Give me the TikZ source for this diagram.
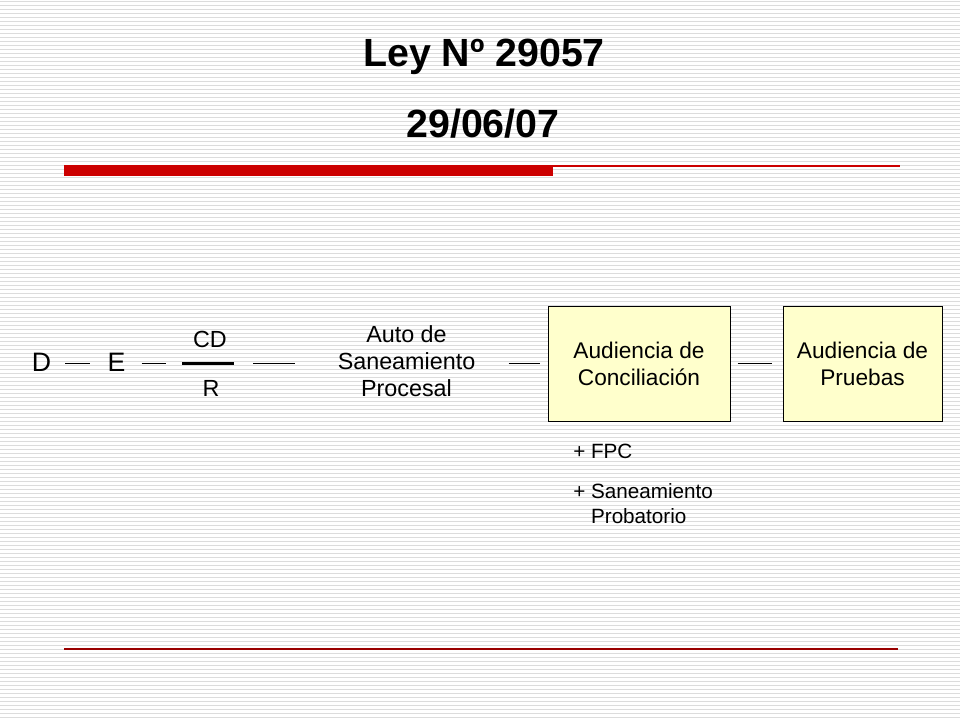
\documentclass[tikz,border=0pt]{standalone}
\usepackage{fontspec}
\setmainfont{Liberation Sans}
\usetikzlibrary{calc}
\definecolor{stripe}{HTML}{DCDCDC}
\definecolor{barred}{HTML}{CC0000}
\definecolor{darkline}{HTML}{990000}
\definecolor{boxfill}{HTML}{FFFFCC}
\tikzset{
  conn/.style={draw=black, line width=0.75pt},
  titletext/.style={font=\fontsize{29.5}{35}\selectfont\bfseries, anchor=base, inner sep=0},
  bigletter/.style={font=\fontsize{20}{24}\selectfont, anchor=base, inner sep=0},
  fractext/.style={font=\fontsize{17.5}{21}\selectfont, anchor=base, inner sep=0},
  stagebox/.style={draw=black, line width=0.75pt, fill=boxfill, inner sep=0, align=center,
     font=\fontsize{17}{20.25}\selectfont},
  notetext/.style={font=\fontsize{15.5}{18.75}\selectfont, anchor=base west, inner sep=0},
}
\begin{document}
\begin{tikzpicture}[x=0.75pt, y=-0.75pt]
\useasboundingbox (0,0) rectangle (960,720);
\fill[white] (0,0) rectangle (960,720);
\foreach \k in {0,...,179} {
  \draw[stripe, line width=0.75pt] (0,{1.5+4*\k}) -- (960,{1.5+4*\k});
}
% title
\node[titletext] (title) at (484,67) {Ley Nº 29057};
\node[titletext] (date) at (483,138) {29/06/07};
% red rules
\fill[barred] (64,165) rectangle (553,176);
\draw[barred, line width=1.1pt] (64,165.8) -- (900,165.8);
\draw[darkline, line width=1.2pt] (64,649) -- (898,649);
% axis
\coordinate (mid) at (0,363.5);
% nodes
\node[bigletter] (D) at (41.5,371) {D};
\node[bigletter] (E) at (116.5,371) {E};
\node[fill=black, minimum width=39pt, minimum height=2.25pt, inner sep=0] (bar) at (208,363.5) {};
\node[fractext] (CD) at (210,347) {CD};
\node[fractext] (R) at (211,396) {R};
\node[anchor=base, inner sep=0, font=\fontsize{17.5}{20.6}\selectfont] (auto) at (406.5,342)
  {\begin{tabular}[t]{@{}c@{}}Auto de\\Saneamiento\\Procesal\end{tabular}};
\node[stagebox, minimum width=136.5pt, minimum height=85.5pt] (conc) at (639,364)
  {Audiencia de\\Conciliación};
\node[stagebox, minimum width=119.25pt, minimum height=85.5pt] (prueb) at (862.5,364)
  {Audiencia de\\Pruebas};
\node[notetext] (fpc) at (573,458) {+ FPC};
\node[notetext] (san) at (573,498)
  {+ \begin{tabular}[t]{@{}l@{}}Saneamiento\\Probatorio\end{tabular}};
% connectors
\draw[conn, shorten <=14*0.75pt, shorten >=17*0.75pt] (D.east |- mid) -- (E.west |- mid);
\draw[conn, shorten <=16*0.75pt, shorten >=16*0.75pt] (E.east |- mid) -- (bar.west);
\draw[conn, shorten <=19*0.75pt, shorten >=42*0.75pt] (bar.east) -- (auto.west |- mid);
\draw[conn, shorten <=33*0.75pt, shorten >=8*0.75pt] (auto.east |- mid) -- (conc.west |- mid);
\draw[conn, shorten <=7*0.75pt, shorten >=11*0.75pt] (conc.east |- mid) -- (prueb.west |- mid);
\end{tikzpicture}
\end{document}
